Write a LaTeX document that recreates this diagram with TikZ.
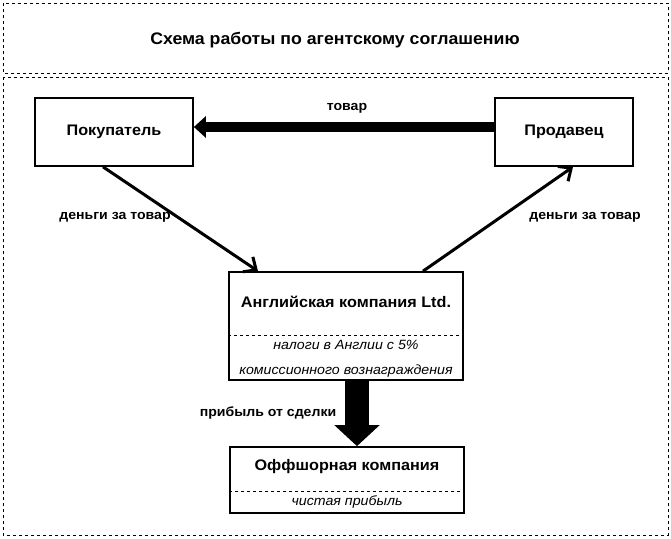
\documentclass[tikz,border=0pt]{standalone}
\usepackage{fontspec}
\setmainfont{Liberation Sans}[FakeStretch=1.06]
\usetikzlibrary{positioning, arrows.meta}

\begin{document}
\begin{tikzpicture}[x=1pt, y=-1pt, font=\bfseries\fontsize{15.3}{18}\selectfont,
  box/.style={draw, line width=1.7pt, inner sep=0pt},
  note/.style={font=\itshape\mdseries\fontsize{13.4}{16}\selectfont},
  lbl/.style={font=\bfseries\fontsize{13.3}{16}\selectfont},
  money/.style={line width=3pt, -{Straight Barb[length=10pt, width=18pt, line width=3pt]}}]
  \useasboundingbox (0,0) rectangle (671,538);
  % frames
  \draw[dashed, thin] (3,3) rectangle (668,73);
  \draw[dashed, thin] (3,77) rectangle (668,535);
  \node (title) at (335,40) {\fontsize{16.7}{19}\selectfont Схема работы по агентскому соглашению};

  \node[box, minimum width=158, minimum height=68] (buyer) at (114,132) {Покупатель};
  \node[box, minimum width=138, minimum height=68] (seller) at (564,132) {Продавец};
  \node[box, minimum width=234, minimum height=108] (agent) at (346,326) {};
  \node (agentname) at (346,302) {Английская компания Ltd.};
  \node[note] (tax1) at (346,345) {налоги в Англии с 5\%};
  \node[note] (tax2) at (346,371) {комиссионного вознаграждения};
  \draw[dashed, thin] (agent.west |- 0,335) -- (agent.east |- 0,335);
  \node[box, minimum width=234, minimum height=66] (offshore) at (347,480) {};
  \node (offname) at (347,467) {Оффшорная компания};
  \node[note] (profit) at (347,502) {чистая прибыль};
  \draw[dashed, thin] (offshore.west |- 0,491) -- (offshore.east |- 0,491);

  % goods and money flows
  \draw[line width=10pt, -{Triangle[length=12pt, width=21pt]}]
    ([yshift=5pt]seller.west) -- ([yshift=5pt]buyer.east);
  \node[lbl] (goods) at (347,108) {товар};
  \draw[money] ([xshift=-11pt]buyer.south) -- ([xshift=-88pt]agent.north);
  \node[lbl] (pay1) at (115,217) {деньги за товар};
  \draw[money] ([xshift=77pt]agent.north) -- ([xshift=9pt]seller.south);
  \node[lbl] (pay2) at (585,217) {деньги за товар};
  \draw[line width=24pt, -{Triangle[length=21pt, width=44pt]}]
    ([xshift=11pt]agent.south) -- ([xshift=10pt]offshore.north);
  \node[lbl] (gain) at (268,413) {прибыль от сделки};
\end{tikzpicture}
\end{document}
